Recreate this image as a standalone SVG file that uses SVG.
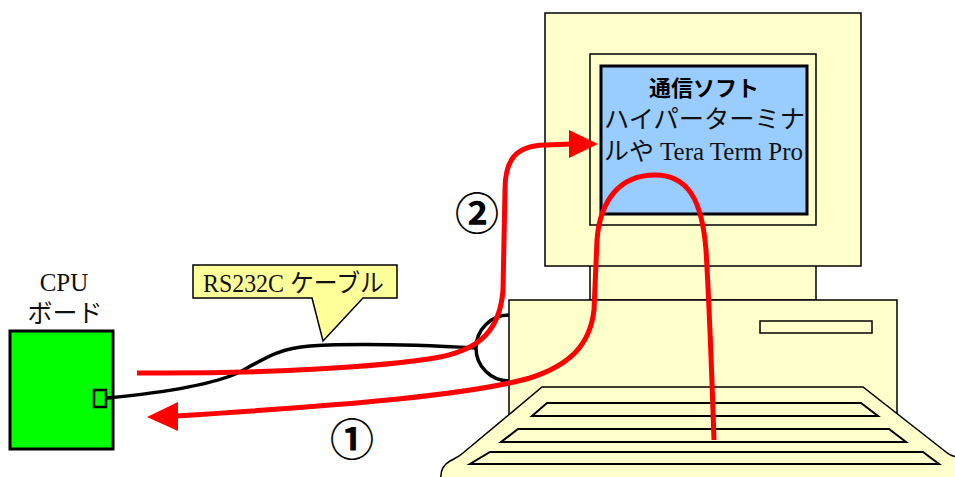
<svg xmlns="http://www.w3.org/2000/svg" width="955" height="477" viewBox="0 0 955 477">
  <style>
    .case { fill: #FFFFCC; stroke: #000; stroke-width: 1.5; }
    .key { fill: #FFFFCC; stroke: #000; stroke-width: 2; stroke-linejoin: miter; }
    .serif { font-family: "Liberation Serif", "Noto Sans CJK JP", serif; font-size: 25px; fill: #111; }
    .red { fill: none; stroke: #FF0000; stroke-width: 5; stroke-linecap: butt; }
    .cable { fill: none; stroke: #000; stroke-width: 3.5; }
    .num { font-family: "Noto Sans CJK JP", sans-serif; font-size: 44px; font-weight: 700; fill: #000; text-anchor: middle; }
  </style>

  <rect width="955" height="477" fill="#FFFFFF"/>

  <!-- personal computer: monitor, stand, system unit and keyboard -->
  <g id="pc">
    <rect class="case" x="590" y="262" width="226" height="38"/>
    <rect class="case" x="545" y="13" width="316" height="253"/>
    <rect class="case" x="590" y="54" width="226" height="171"/>
    <rect x="601" y="66" width="206" height="148" fill="#99CCFF" stroke="#000" stroke-width="3"/>
    <rect class="case" x="509" y="300" width="388" height="130"/>
    <rect class="case" x="760" y="321" width="112" height="12"/>
    <path class="case" d="M542,387 H863 L946,452 C949,455 952,456 957,457 L957,480 L441,480 C440,472 443,465 450,461 C455,458 459,457 463,453 Z"/>
    <polygon class="key" points="547,403 861,403 878,416 532,416"/>
    <polygon class="key" points="518,429 889,429 906,442 501,442"/>
    <polygon class="key" points="490,452 923,452 939,464 470,464"/>
    <text x="704" y="96" text-anchor="middle" font-family="Noto Sans CJK JP, sans-serif" font-size="22" font-weight="700" fill="#000">通信ソフト</text>
    <text class="serif" x="604" y="128" textLength="201" lengthAdjust="spacingAndGlyphs" fill="#333">ハイパーターミナ</text>
    <text class="serif" x="604" y="160" textLength="199" lengthAdjust="spacingAndGlyphs">ルや Tera Term Pro</text>
  </g>

  <!-- CPU board -->
  <g id="cpu-board">
    <text class="serif" x="64" y="291" text-anchor="middle">CPU</text>
    <text class="serif" x="65" y="322" text-anchor="middle" fill="#333">ボード</text>
    <rect x="10" y="331" width="103" height="118" fill="#00FF00" stroke="#000" stroke-width="3"/>
    <rect x="94" y="390" width="12" height="17" fill="#00FF00" stroke="#000" stroke-width="2.5"/>
  </g>

  <!-- cable callout -->
  <g id="cable-label">
    <path d="M193,265 H397 V298 H363 L323,341 L312,298 H193 Z" fill="#FFFF99" stroke="#000" stroke-width="1.5"/>
    <text class="serif" x="203" y="292" textLength="181" lengthAdjust="spacingAndGlyphs">RS232C ケーブル</text>
  </g>

  <!-- connectors -->
  <g id="connectors">
    <path class="cable" d="M107,398 C160,393 210,386 240,372 C265,358 280,348 310,346 C360,343 420,345 476,348"/>
    <path class="cable" d="M509,315 A33,33 0 0 0 509,381"/>

    <!-- (1) keyboard to board -->
    <path class="red" d="M714,440 C712,380 709,300 706,250 C702,200 688,175 655,175 C620,175 600,200 597,240 L594,310 C590,345 570,365 530,378 C470,395 350,405 176,416"/>
    <polygon points="178,402 147,417 178,431" fill="#FF0000"/>

    <!-- (2) board to terminal software -->
    <path class="red" d="M137,373 C250,374 380,368 440,357 C480,349 500,330 503,290 L505,190 C505,160 515,146 545,145 L572,144"/>
    <polygon points="569,130 598,144 569,158" fill="#FF0000"/>

    <text class="num" x="352" y="456">①</text>
    <text class="num" x="477" y="230">②</text>
  </g>
</svg>
